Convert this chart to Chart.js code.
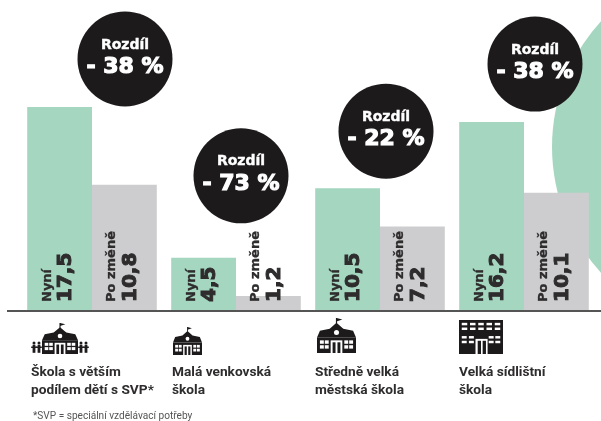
<!DOCTYPE html>
<html lang="cs">
<head>
<meta charset="utf-8">
<title>Rozdíl mezi školami</title>
<script src="https://cdn.jsdelivr.net/npm/chart.js@4"></script>
<style>
  html, body { margin: 0; padding: 0; background: #fff; }
  canvas { display: block; filter: blur(0.4px); }
</style>
</head>
<body>
<canvas id="chart" width="601" height="421"></canvas>
<script>
// --- DATA ---
const categories = [
    ['Škola s větším', 'podílem dětí s SVP*'],
    ['Malá venkovská', 'škola'],
    ['Středně velká', 'městská škola'],
    ['Velká sídlištní', 'škola']
];
const nowValues = [17.5, 4.5, 10.5, 16.2];
const afterValues = [10.8, 1.2, 7.2, 10.1];
const differences = ['- 38 %', '- 73 %', '- 22 %', '- 38 %'];
const nowLabel = 'Nyní';
const afterLabel = 'Po změně';
const differenceLabel = 'Rozdíl';
const footnote = '*SVP = speciální vzdělávací potřeby';

// --- LAYOUT OF THE DECORATIONS ---
const GREEN = '#a5d6c0';
const GREY = '#cdcdcf';
const INK = '#1d1a1b';
const TEXT = '#2e2c2d';
const BADGE_RADIUS = 47.5;
// badge centre relative to the group centre and the top of the green bar
const badgeOffsets = [[33, -48], [5, -82], [6, -57], [11, -58]];
const categoryOffsets = [-61, -64, -65, -65];
const iconBoxes = [
    { type: 'people', x: 32, y: 323, w: 56, h: 31 },
    { type: 'school', x: 173, y: 327, w: 29, h: 28 },
    { type: 'school', x: 317, y: 318, w: 39, h: 35 },
    { type: 'block', x: 459, y: 320, w: 44, h: 34 }
];

const formatValue = (v) => v.toFixed(1).replace('.', ',');

// --- ICONS (drawn in a 40 x 36 box) ---
const drawSchool = (ctx) => {
    ctx.fillStyle = INK;
    ctx.fillRect(0, 20, 40, 16);
    ctx.beginPath();
    ctx.moveTo(0, 20); ctx.lineTo(3, 13); ctx.lineTo(13, 11); ctx.lineTo(20, 5);
    ctx.lineTo(27, 11); ctx.lineTo(37, 13); ctx.lineTo(40, 20);
    ctx.closePath();
    ctx.fill();
    ctx.fillRect(19.4, 0, 1.2, 6);
    ctx.beginPath();
    ctx.moveTo(20, 0); ctx.lineTo(26, 1.5); ctx.lineTo(20, 3.5);
    ctx.closePath();
    ctx.fill();
    ctx.fillStyle = '#fff';
    ctx.beginPath();
    ctx.arc(20, 15, 2.6, 0, Math.PI * 2);
    ctx.fill();
    [3, 8, 28, 33].forEach((wx) => {
        ctx.fillRect(wx, 23, 4, 3.5);
        ctx.fillRect(wx, 28, 4, 3.5);
    });
    ctx.fillRect(14, 23, 12, 13);
    ctx.fillStyle = INK;
    ctx.fillRect(16, 25, 3, 11);
    ctx.fillRect(21, 25, 3, 11);
};

const drawBlock = (ctx) => {
    ctx.fillStyle = INK;
    ctx.fillRect(0, 0, 40, 36);
    ctx.fillStyle = '#fff';
    [2.5, 10, 17.5, 25, 32.5].forEach((wx) => {
        ctx.fillRect(wx, 3, 5, 2.6);
        ctx.fillRect(wx, 8, 5, 2.6);
    });
    [2.5, 9, 27, 33].forEach((wx) => {
        ctx.fillRect(wx, 17, 4.5, 2.6);
        ctx.fillRect(wx, 22, 4.5, 2.6);
    });
    ctx.fillRect(15, 20, 11, 16);
    ctx.fillStyle = INK;
    ctx.fillRect(17, 22, 3, 14);
    ctx.fillRect(21.5, 22, 3, 14);
};

const drawPerson = (ctx, x, y) => {
    ctx.fillStyle = INK;
    ctx.beginPath();
    ctx.arc(x, y, 1.5, 0, Math.PI * 2);
    ctx.fill();
    ctx.fillRect(x - 1.4, y + 1.8, 2.8, 8);
    ctx.fillRect(x - 2.8, y + 3.5, 5.6, 1.5);
};

const iconPlugin = {
    id: 'icons',
    afterDraw(chart) {
        const { ctx } = chart;
        iconBoxes.forEach((box) => {
            ctx.save();
            ctx.translate(box.x, box.y);
            if (box.type === 'people') {
                [2, 7, 49, 54].forEach((px) => drawPerson(ctx, px, 20));
                ctx.translate(10, 0);
                ctx.scale(36 / 40, box.h / 36);
                drawSchool(ctx);
            } else {
                ctx.scale(box.w / 40, box.h / 36);
                if (box.type === 'block') drawBlock(ctx); else drawSchool(ctx);
            }
            ctx.restore();
        });
    }
};

// Big pale circle behind the last group, cut off by the page edge
const backdropPlugin = {
    id: 'backdrop',
    beforeDatasetsDraw(chart) {
        const { ctx } = chart;
        ctx.save();
        ctx.fillStyle = GREEN;
        ctx.beginPath();
        ctx.arc(738, 147, 186, 0, Math.PI * 2);
        ctx.fill();
        ctx.restore();
    }
};

const drawRotatedText = (ctx, text, x, y, font, strokeWidth) => {
    ctx.save();
    ctx.fillStyle = TEXT;
    ctx.strokeStyle = TEXT;
    ctx.lineWidth = strokeWidth;
    ctx.textAlign = 'left';
    ctx.textBaseline = 'middle';
    ctx.translate(x, y);
    ctx.rotate(-Math.PI / 2);
    ctx.font = font;
    ctx.fillText(text, 0, 0);
    ctx.strokeText(text, 0, 0);
    ctx.restore();
};

const drawBarLabels = (ctx, bar, small, big) => {
    const bottom = bar.base - 8;
    const left = bar.x - bar.width / 2;
    drawRotatedText(ctx, small, left + 20, bottom, 'bold 13px "DejaVu Sans"', 0.3);
    drawRotatedText(ctx, big, left + 39, bottom, 'bold 20px "DejaVu Sans"', 1);
};

const annotationPlugin = {
    id: 'annotations',
    afterDatasetsDraw(chart) {
        const { ctx, chartArea, scales } = chart;
        const nowBars = chart.getDatasetMeta(0).data;
        const afterBars = chart.getDatasetMeta(1).data;

        // baseline runs past the plot on both sides
        ctx.fillStyle = '#555';
        ctx.fillRect(7, chartArea.bottom, 594, 2);

        nowBars.forEach((bar, i) => {
            drawBarLabels(ctx, bar, nowLabel, formatValue(nowValues[i]));
            drawBarLabels(ctx, afterBars[i], afterLabel, formatValue(afterValues[i]));

            const groupX = scales.x.getPixelForValue(i);
            const cx = groupX + badgeOffsets[i][0];
            const cy = bar.y + badgeOffsets[i][1];
            ctx.save();
            ctx.fillStyle = INK;
            ctx.beginPath();
            ctx.arc(cx, cy, BADGE_RADIUS, 0, Math.PI * 2);
            ctx.fill();
            ctx.fillStyle = '#fff';
            ctx.strokeStyle = '#fff';
            ctx.textAlign = 'center';
            ctx.textBaseline = 'middle';
            ctx.font = 'bold 14px "DejaVu Sans"';
            ctx.lineWidth = 0.4;
            ctx.fillText(differenceLabel, cx, cy - 14);
            ctx.strokeText(differenceLabel, cx, cy - 14);
            ctx.font = 'bold 22px "DejaVu Sans"';
            ctx.lineWidth = 1.2;
            ctx.fillText(differences[i], cx, cy + 8);
            ctx.strokeText(differences[i], cx, cy + 8);
            ctx.restore();

            // category name, left aligned under the group
            ctx.save();
            ctx.fillStyle = TEXT;
            ctx.font = 'bold 13.7px Roboto';
            ctx.textAlign = 'left';
            ctx.textBaseline = 'middle';
            categories[i].forEach((line, n) => {
                ctx.fillText(line, groupX + categoryOffsets[i], 373 + n * 17.5);
            });
            ctx.restore();
        });

        ctx.save();
        ctx.fillStyle = '#555';
        ctx.font = '10.1px Roboto';
        ctx.textAlign = 'left';
        ctx.textBaseline = 'middle';
        ctx.fillText(footnote, 33, 416);
        ctx.restore();
    }
};

// --- CHART ---
new Chart(document.getElementById('chart'), {
    type: 'bar',
    data: {
        labels: categories,
        datasets: [
            { label: nowLabel, data: nowValues, backgroundColor: GREEN },
            { label: afterLabel, data: afterValues, backgroundColor: GREY }
        ]
    },
    plugins: [backdropPlugin, annotationPlugin, iconPlugin],
    options: {
        responsive: false,
        animation: false,
        layout: { padding: { left: 20, right: 5, top: 0, bottom: 0 } },
        datasets: { bar: { barPercentage: 1, categoryPercentage: 0.9 } },
        plugins: { legend: { display: false }, tooltip: { enabled: false } },
        scales: {
            x: {
                grid: { display: false, drawTicks: false },
                border: { display: false },
                ticks: { display: false },
                afterFit(axis) { axis.height = 111; }
            },
            y: { display: false, min: 0, max: 26.72 }
        }
    }
});
</script>
</body>
</html>
